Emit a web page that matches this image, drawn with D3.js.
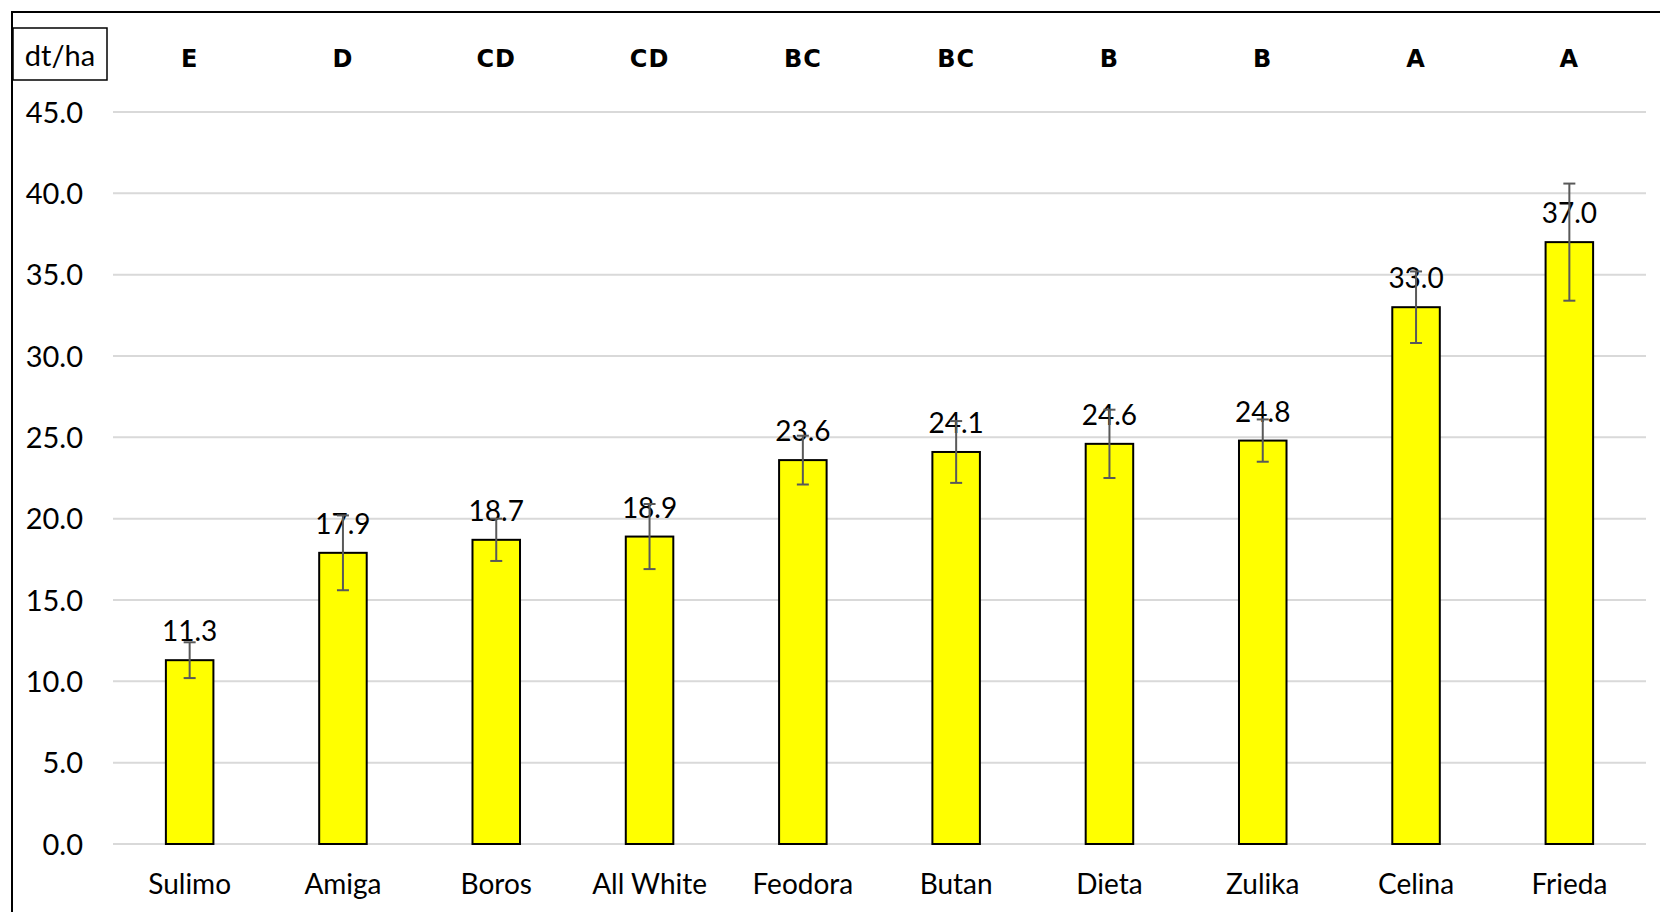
<!DOCTYPE html>
<html>
<head>
<meta charset="utf-8">
<script src="https://cdn.jsdelivr.net/npm/d3@7"></script>
<style>
  html, body { margin: 0; padding: 0; background: #fff; }
  svg { display: block; }
</style>
</head>
<body>
<svg id="chart" width="1660" height="912"></svg>
<script>
const categories = ["Sulimo", "Amiga", "Boros", "All White", "Feodora", "Butan", "Dieta", "Zulika", "Celina", "Frieda"];
const values = [11.3, 17.9, 18.7, 18.9, 23.6, 24.1, 24.6, 24.8, 33.0, 37.0];
const errors = [1.1, 2.3, 1.3, 2.0, 1.5, 1.9, 2.1, 1.3, 2.2, 3.6];
const groups = ["E", "D", "CD", "CD", "BC", "BC", "B", "B", "A", "A"];
const yTicks = [0, 5, 10, 15, 20, 25, 30, 35, 40, 45];
const unitLabel = "dt/ha";

const svg = d3.select("#chart");
const font = "Lato, 'Open Sans', sans-serif";
const margin = { left: 113, right: 14, top: 112, bottom: 68 };
const W = 1660, H = 912;

const x = d3.scaleBand().domain(categories).range([margin.left, W - margin.right]).paddingInner(0.69).paddingOuter(0.345);
const y = d3.scaleLinear().domain([0, 45]).range([H - margin.bottom, margin.top]);

// outer frame
svg.append("rect").attr("x", 12).attr("y", 12).attr("width", 1700).attr("height", 1000)
  .attr("fill", "none").attr("stroke", "#000").attr("stroke-width", 2);

// gridlines
svg.append("g").selectAll("line").data(yTicks).join("line")
  .attr("x1", margin.left).attr("x2", W - margin.right)
  .attr("y1", d => y(d)).attr("y2", d => y(d))
  .attr("stroke", "#d9d9d9").attr("stroke-width", 2);

// y axis labels
const yAxis = d3.axisLeft(y).tickValues(yTicks).tickFormat(d3.format(".1f")).tickSize(0).tickPadding(30);
const gy = svg.append("g").attr("transform", `translate(${margin.left},0)`).call(yAxis);
gy.select(".domain").remove();
gy.selectAll("text").attr("font-family", font).attr("font-size", 29).attr("fill", "#000").attr("dy", "0.35em");

// x axis labels
const xAxis = d3.axisBottom(x).tickSize(0).tickPadding(30);
const gx = svg.append("g").attr("transform", `translate(0,${H - margin.bottom})`).call(xAxis);
gx.select(".domain").remove();
gx.selectAll("text").attr("font-family", font).attr("font-size", 28).attr("fill", "#000");

// bars
svg.append("g").selectAll("rect").data(values).join("rect")
  .attr("x", (d, i) => x(categories[i]))
  .attr("width", x.bandwidth())
  .attr("y", d => y(d))
  .attr("height", d => y(0) - y(d))
  .attr("fill", "#ffff00").attr("stroke", "#000").attr("stroke-width", 2);

// value labels
svg.append("g").selectAll("text").data(values).join("text")
  .attr("x", (d, i) => x(categories[i]) + x.bandwidth() / 2)
  .attr("y", d => y(d) - 19)
  .attr("text-anchor", "middle")
  .attr("font-family", font).attr("font-size", 28).attr("fill", "#000")
  .text(d => d3.format(".1f")(d));

// error bars
const eb = svg.append("g").attr("stroke", "#595959").attr("stroke-width", 2);
values.forEach((v, i) => {
  const cx = x(categories[i]) + x.bandwidth() / 2;
  const top = y(v + errors[i]), bot = y(v - errors[i]);
  eb.append("line").attr("x1", cx).attr("x2", cx).attr("y1", top).attr("y2", bot);
  eb.append("line").attr("x1", cx - 6).attr("x2", cx + 6).attr("y1", top).attr("y2", top);
  eb.append("line").attr("x1", cx - 6).attr("x2", cx + 6).attr("y1", bot).attr("y2", bot);
});

// group letters
svg.append("g").selectAll("text").data(groups).join("text")
  .attr("x", (d, i) => x(categories[i]) + x.bandwidth() / 2)
  .attr("y", 67)
  .attr("text-anchor", "middle")
  .attr("font-family", "'DejaVu Sans', sans-serif").attr("font-weight", 700).attr("font-size", 24)
  .attr("letter-spacing", 1).attr("fill", "#000")
  .text(d => d);

// unit label box
svg.append("rect").attr("x", 13).attr("y", 28).attr("width", 94).attr("height", 52)
  .attr("fill", "#fff").attr("stroke", "#000").attr("stroke-width", 1.5);
svg.append("text").attr("x", 60).attr("y", 66).attr("text-anchor", "middle")
  .attr("font-family", font).attr("font-size", 29).attr("fill", "#000").text(unitLabel);
</script>
</body>
</html>
